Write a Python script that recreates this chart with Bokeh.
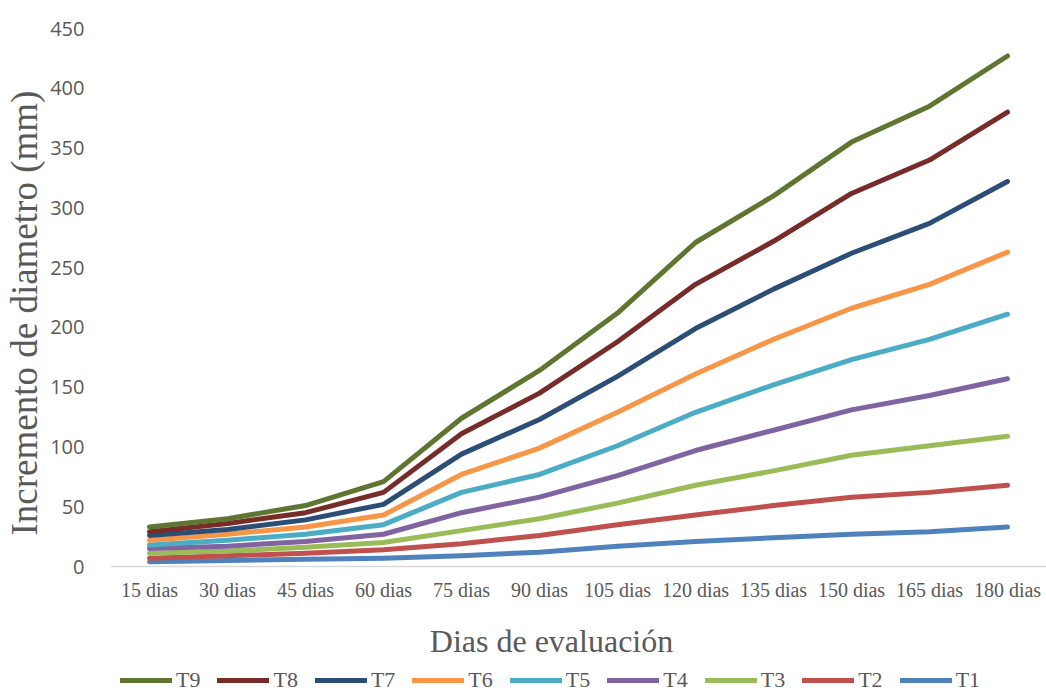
from bokeh.embed import file_html
from bokeh.models import FactorRange, FixedTicker, Label, Legend, LegendItem, Range1d, Title
from bokeh.plotting import figure
from bokeh.resources import INLINE

# Evaluation days (x categories)
dias = ["15 dias", "30 dias", "45 dias", "60 dias", "75 dias", "90 dias",
        "105 dias", "120 dias", "135 dias", "150 dias", "165 dias", "180 dias"]

# Diameter increment (mm) per treatment
t1 = [4, 5, 6, 7, 9, 12, 17, 21, 24, 27, 29, 33]
t2 = [7, 9, 11, 14, 19, 26, 35, 43, 51, 58, 62, 68]
t3 = [11, 13, 16, 20, 30, 40, 53, 68, 80, 93, 101, 109]
t4 = [15, 17, 21, 27, 45, 58, 76, 97, 114, 131, 143, 157]
t5 = [18, 22, 27, 35, 62, 77, 101, 129, 152, 173, 190, 211]
t6 = [22, 27, 33, 43, 77, 99, 129, 161, 190, 216, 236, 263]
t7 = [26, 31, 39, 52, 94, 123, 159, 199, 232, 262, 287, 322]
t8 = [29, 36, 45, 62, 111, 145, 188, 236, 272, 312, 340, 380]
t9 = [33, 40, 51, 71, 124, 164, 212, 271, 310, 355, 385, 427]

series_names = ["T1", "T2", "T3", "T4", "T5", "T6", "T7", "T8", "T9"]
series_values = [t1, t2, t3, t4, t5, t6, t7, t8, t9]
series_colors = ["#4F81BD", "#C0504D", "#9BBB59", "#8064A2", "#4BACC6",
                 "#F79646", "#2C4D75", "#772C2A", "#5F7530"]

y_ticks = list(range(0, 451, 50))
Y_MAX = 450

TEXT_GREY = "#595959"
SERIF = "Liberation Serif"

# Page layout (pixels): plot area top, zero line and canvas bottom.
W, H = 1046, 693
TOP, ZERO_Y = 28, 566
px_per_unit = (ZERO_Y - TOP) / Y_MAX
y_start = -(H - ZERO_Y) / px_per_unit   # room under the zero line for labels + legend

p = figure(
    width=W, height=H,
    x_range=FactorRange(*dias, range_padding=0),
    y_range=Range1d(y_start, Y_MAX),
    output_backend="svg", toolbar_location=None,
    min_border_left=109, min_border_right=0,
    min_border_top=TOP, min_border_bottom=0,
)
p.outline_line_color = None
p.grid.visible = False
p.background_fill_color = "white"

# y axis: tick labels only
yax = p.yaxis[0]
yax.ticker = FixedTicker(ticks=y_ticks)
yax.axis_line_color = None
yax.major_tick_line_color = None
yax.minor_tick_line_color = None
yax.major_tick_out = 0
yax.minor_tick_out = 0
yax.major_label_standoff = 26
yax.major_label_text_font = "Open Sans"
yax.major_label_text_font_size = "20px"
yax.major_label_text_color = TEXT_GREY

# x axis drawn on the zero line
xax = p.xaxis[0]
xax.fixed_location = 0
xax.axis_line_color = "#D9D9D9"
xax.axis_line_width = 1.5
xax.major_tick_line_color = None
xax.minor_tick_line_color = None
xax.major_tick_out = 0
xax.minor_tick_out = 0
xax.major_label_standoff = 12
xax.major_label_text_font = SERIF
xax.major_label_text_font_size = "20px"
xax.major_label_text_color = TEXT_GREY

renderers = {}
for name, vals, color in zip(series_names, series_values, series_colors):
    renderers[name] = p.line(dias, vals, line_width=5, line_color=color,
                             line_join="round", line_cap="round")

items = [LegendItem(label=name, renderers=[renderers[name]])
         for name in reversed(series_names)]
legend = Legend(
    items=items, orientation="horizontal", location=(10, 0),
    glyph_width=52, glyph_height=20, label_standoff=4, spacing=17,
    padding=0, margin=0, border_line_color=None, background_fill_alpha=0,
    label_text_font=SERIF, label_text_font_size="22px",
    label_text_color=TEXT_GREY, label_height=20,
)
p.add_layout(legend)

# x axis title
p.add_layout(Label(
    x=441, y=H - 640, x_units="screen", y_units="screen",
    text="Dias de evaluación", text_align="center", text_baseline="middle",
    text_font=SERIF, text_font_size="32px", text_color=TEXT_GREY,
))

# y axis title
p.add_layout(Title(
    text="Incremento de diametro (mm)", align="left", offset=H - 535,
    vertical_align="middle", standoff=4,
    text_font=SERIF, text_font_size="37px", text_font_style="normal",
    text_color=TEXT_GREY,
), "left")

open("out.html", "w").write(file_html(p, INLINE))
